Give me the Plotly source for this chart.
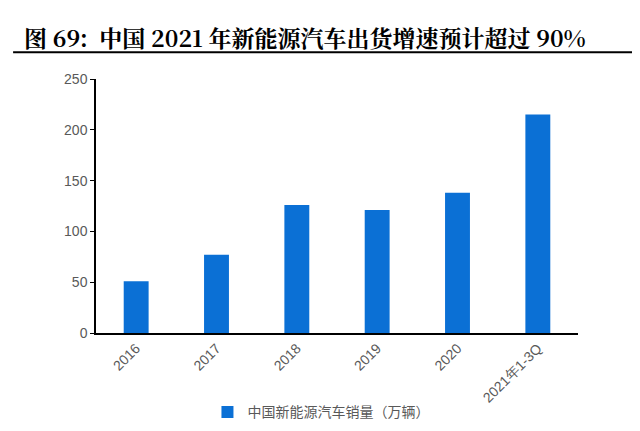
import plotly.graph_objects as go

# 数据（万辆）
categories = ['2016', '2017', '2018', '2019', '2020', '2021年1-3Q']
sales = [51, 77, 126, 121, 138, 215]
y_ticks = [0, 50, 100, 150, 200, 250]

BAR_COLOR = '#0B70D5'
TEXT_GRAY = '#595959'

fig = go.Figure()
fig.add_trace(go.Bar(
    x=categories, y=sales,
    name='中国新能源汽车销量（万辆）',
    marker=dict(color=BAR_COLOR, line=dict(width=0)),
    showlegend=True,
))

# 页面 body 有 8px 默认边距，边距按此扣除
fig.update_layout(
    width=640, height=431,
    margin=dict(l=88, r=70, t=71, b=106, autoexpand=False),
    paper_bgcolor='white', plot_bgcolor='white',
    bargap=0.69,
    font=dict(family='Liberation Sans, Arial, sans-serif', color=TEXT_GRAY, size=14),
    xaxis=dict(
        type='category', tickangle=-45, showline=True, linecolor='black', linewidth=1.5,
        ticks='', showgrid=False, tickfont=dict(size=14, color=TEXT_GRAY),
    ),
    yaxis=dict(
        range=[0, 250], tickvals=y_ticks, showline=True, linecolor='black', linewidth=1.5,
        ticks='outside', ticklen=4, tickcolor='black', showgrid=False, zeroline=False,
        tickfont=dict(size=14, color=TEXT_GRAY),
    ),
    legend=dict(
        orientation='h', x=0.489, xanchor='center', xref='container',
        y=0.099, yanchor='top', yref='container', itemwidth=30,
        font=dict(family='Noto Sans CJK SC', size=14, color=TEXT_GRAY),
    ),
    annotations=[dict(
        text='<b>图 69:  中国 2021 年新能源汽车出货增速预计超过 90%</b>',
        xref='paper', yref='paper', x=-0.1535, y=1.165, xanchor='left', yanchor='middle',
        showarrow=False, font=dict(family='Noto Serif CJK SC, Noto Sans CJK SC', size=23, color='black'),
    )],
    shapes=[dict(
        type='line', xref='paper', yref='paper', x0=-0.172, x1=1.15, y0=1.105, y1=1.105,
        line=dict(color='black', width=2),
    )],
)

fig.write_html('out.html')
